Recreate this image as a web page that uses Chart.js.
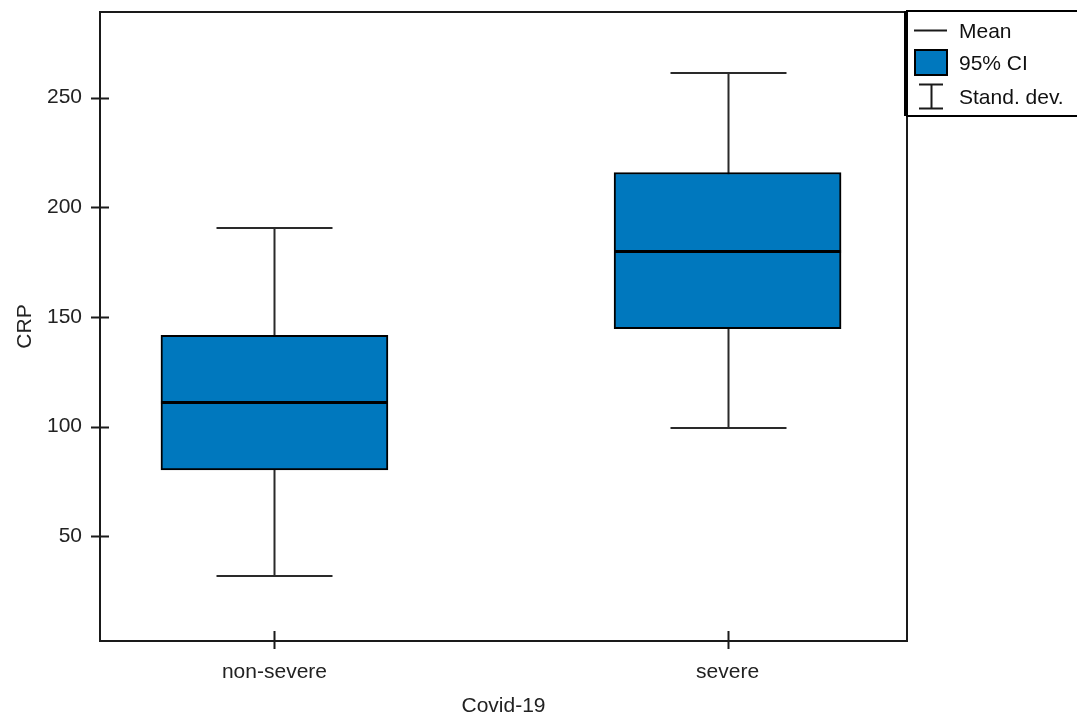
<!DOCTYPE html>
<html>
<head>
<meta charset="utf-8">
<script src="https://cdn.jsdelivr.net/npm/chart.js@4.4.0/dist/chart.umd.min.js"></script>
<style>
  html, body { margin: 0; padding: 0; background: #ffffff; }
  #wrap { width: 1077px; height: 719px; position: relative; }
</style>
</head>
<body>
<div id="wrap"><canvas id="c" width="1077" height="719"></canvas></div>
<script>
// CRP by Covid-19 severity: mean, 95% confidence interval and mean ± standard deviation
const categories = ['non-severe', 'severe'];
const groupPos   = [1, 2];
const means      = [111.2, 180.2];
const ciLow      = [80.2, 144.6];
const ciHigh     = [141.6, 215.8];
const sdLow      = [31.7, 99.1];
const sdHigh     = [190.7, 261.3];
const yTicks     = [50, 100, 150, 200, 250];

const FONT = 'Liberation Sans';
const FSIZE = 21;
const BLUE = '#0078be';

// whiskers behind the boxes, mean lines on top
const boxExtras = {
  id: 'boxExtras',
  beforeDatasetsDraw(chart) {
    const { ctx, scales: { x, y } } = chart;
    ctx.save();
    ctx.strokeStyle = '#2a2a2a';
    ctx.lineWidth = 2;
    groupPos.forEach((p, i) => {
      const cx = Math.round(x.getPixelForValue(p)) + 0.5;
      const half = 58;
      const yHi = Math.round(y.getPixelForValue(sdHigh[i]));
      const yLo = Math.round(y.getPixelForValue(sdLow[i]));
      ctx.beginPath();
      ctx.moveTo(cx, yHi); ctx.lineTo(cx, yLo);
      ctx.moveTo(cx - half, yHi); ctx.lineTo(cx + half, yHi);
      ctx.moveTo(cx - half, yLo); ctx.lineTo(cx + half, yLo);
      ctx.stroke();
    });
    ctx.restore();
  },
  afterDatasetsDraw(chart) {
    const { ctx, scales: { x, y } } = chart;
    ctx.save();
    ctx.strokeStyle = '#000000';
    ctx.lineWidth = 3;
    groupPos.forEach((p, i) => {
      const cx = x.getPixelForValue(p);
      const ym = Math.round(y.getPixelForValue(means[i])) + 0.5;
      ctx.beginPath();
      ctx.moveTo(cx - 113.5, ym); ctx.lineTo(cx + 113.5, ym);
      ctx.stroke();
    });
    ctx.restore();
  }
};

// plot frame with ticks crossing the axis lines, plus the legend panel
const frameAndLegend = {
  id: 'frameAndLegend',
  afterDraw(chart) {
    const { ctx, chartArea: a, scales: { x, y } } = chart;
    ctx.save();
    ctx.strokeStyle = '#1a1a1a';
    ctx.lineWidth = 2;
    ctx.strokeRect(a.left, a.top, a.right - a.left, a.bottom - a.top);

    ctx.beginPath();
    y.ticks.forEach(t => {
      const py = Math.round(y.getPixelForValue(t.value)) + 0.5;
      ctx.moveTo(a.left - 9, py); ctx.lineTo(a.left + 9, py);
    });
    x.ticks.forEach(t => {
      const px = Math.round(x.getPixelForValue(t.value)) + 0.5;
      ctx.moveTo(px, a.bottom - 10); ctx.lineTo(px, a.bottom + 8);
    });
    ctx.stroke();

    // legend panel
    const L = a.right, T = a.top - 1, R = 1090, B = 116;
    ctx.strokeStyle = '#000000';
    ctx.lineWidth = 2;
    ctx.strokeRect(L, T, R - L, B - T);
    ctx.lineWidth = 4;
    ctx.beginPath(); ctx.moveTo(L - 1, T); ctx.lineTo(L - 1, B); ctx.stroke();

    ctx.font = FSIZE + 'px "' + FONT + '"';
    ctx.fillStyle = '#111111';
    ctx.textBaseline = 'middle';
    ctx.textAlign = 'left';

    ctx.lineWidth = 2;
    ctx.strokeStyle = '#1a1a1a';
    ctx.beginPath(); ctx.moveTo(914, 30.5); ctx.lineTo(947, 30.5); ctx.stroke();
    ctx.fillText('Mean', 959, 32);

    ctx.fillStyle = BLUE;
    ctx.fillRect(915, 50, 32, 25);
    ctx.strokeStyle = '#000000';
    ctx.strokeRect(915, 50, 32, 25);
    ctx.fillStyle = '#111111';
    ctx.fillText('95% CI', 959, 64);

    ctx.strokeStyle = '#1a1a1a';
    ctx.beginPath();
    ctx.moveTo(919, 84.5); ctx.lineTo(943, 84.5);
    ctx.moveTo(931.5, 84.5); ctx.lineTo(931.5, 108.5);
    ctx.moveTo(919, 108.5); ctx.lineTo(943, 108.5);
    ctx.stroke();
    ctx.fillText('Stand. dev.', 959, 98);
    ctx.restore();
  }
};

new Chart(document.getElementById('c'), {
  type: 'bar',
  data: {
    datasets: [{
      label: '95% CI',
      data: groupPos.map((p, i) => ({ x: p, y: [ciLow[i], ciHigh[i]] })),
      backgroundColor: BLUE,
      borderColor: '#000000',
      borderWidth: 2,
      borderSkipped: false,
      barThickness: 227
    }]
  },
  options: {
    responsive: false,
    animation: false,
    devicePixelRatio: 1,
    layout: { padding: { left: 0, top: 12, right: 170, bottom: 0 } },
    plugins: { legend: { display: false }, tooltip: { enabled: false } },
    scales: {
      x: {
        type: 'linear',
        offset: false,
        min: 0.615,
        max: 2.396,
        afterBuildTicks(s) { s.ticks = groupPos.map(v => ({ value: v })); },
        afterFit(s) { s.height = 78; s.paddingLeft = 0; s.paddingRight = 0; },
        grid: { display: true, drawOnChartArea: false, drawTicks: true, tickLength: 8, color: 'rgba(0,0,0,0)' },
        border: { display: false },
        ticks: {
          color: '#222222',
          font: { family: FONT, size: FSIZE },
          padding: 11,
          maxRotation: 0,
          callback: v => categories[groupPos.indexOf(v)] || ''
        },
        title: {
          display: true,
          text: 'Covid-19',
          color: '#222222',
          font: { family: FONT, size: FSIZE },
          padding: { top: 5, bottom: 0 }
        }
      },
      y: {
        type: 'linear',
        min: 2.2,
        max: 289.0,
        afterBuildTicks(s) { s.ticks = yTicks.map(v => ({ value: v })); },
        afterFit(s) { s.width = 100; s.paddingTop = 0; s.paddingBottom = 0; },
        grid: { display: true, drawOnChartArea: false, drawTicks: true, tickLength: 9, color: 'rgba(0,0,0,0)' },
        border: { display: false },
        ticks: {
          color: '#222222',
          font: { family: FONT, size: FSIZE },
          padding: 9
        },
        title: {
          display: true,
          text: 'CRP',
          color: '#222222',
          font: { family: FONT, size: FSIZE },
          padding: { top: 13, bottom: 0 }
        }
      }
    }
  },
  plugins: [boxExtras, frameAndLegend]
});
</script>
</body>
</html>
